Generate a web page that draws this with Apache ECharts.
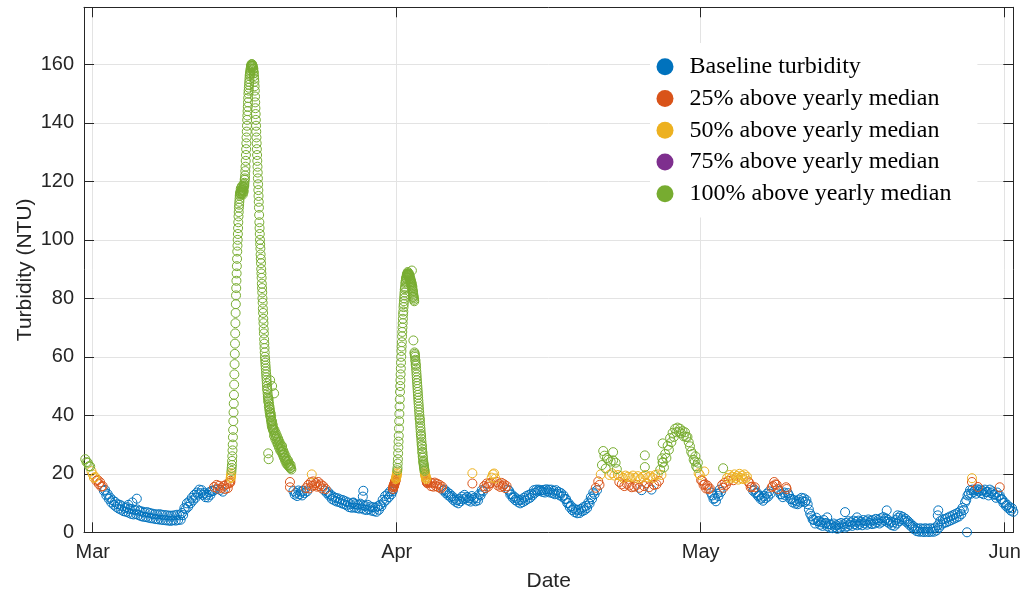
<!DOCTYPE html>
<html>
<head>
<meta charset="utf-8">
<script src="https://cdn.jsdelivr.net/npm/echarts@6.0.0/dist/echarts.min.js"></script>
<style>
  html, body { margin: 0; padding: 0; background: #fff; }
  #chart { width: 1025px; height: 595px; }
</style>
</head>
<body>
<div id="chart"></div>
<script>
// series names / colours (MATLAB default order)
const seriesNames = ['Baseline turbidity', '25% above yearly median', '50% above yearly median',
  '75% above yearly median', '100% above yearly median'];
const seriesColors = ['#0072BD', '#D95319', '#EDB120', '#7E2F8E', '#77AC30'];
// NTU limits of each class (no point falls in the 75% class)
const levelCuts = [14.8, 18, 21, 21];

// x axis: days after Mar 1, month ticks equally spaced
const monthLabels = ['Mar', 'Apr', 'May', 'Jun'];
const monthTicks = [0, 92 / 3, 184 / 3, 92];
const yTicksMax = 179.5;

// 3-hourly readings, Feb 28 18:00 -> Mar 14 18:00
const segAStart = -0.75;
const segA = [25.0, 24.0, 23.8, 22.6, 22.5, 20.9,
  19.8, 18.6, 18.9, 17.6, 17.9, 16.5, 17.1, 15.6,
  15.8, 14.2, 14.5, 12.6, 13.1, 11.4, 11.9, 10.2,
  11.0, 9.4, 10.4, 8.7, 9.6, 8.1, 9.4, 7.7,
  8.9, 7.2, 8.3, 7.0, 8.6, 6.7, 8.0, 6.3,
  7.9, 6.1, 7.6, 6.2, 7.8, 5.9, 7.3, 5.5,
  7.1, 5.3, 6.8, 5.2, 6.9, 5.0, 6.6, 4.8,
  6.4, 4.7, 6.2, 4.5, 6.1, 4.4, 6.2, 4.3,
  6.0, 4.2, 5.9, 4.1, 5.8, 4.0, 5.7, 3.9,
  5.7, 4.1, 5.8, 4.0, 6.0, 4.2, 5.8, 4.3,
  6.6, 5.9, 8.3, 7.9, 9.9, 8.7, 10.6, 9.9,
  11.8, 10.9, 12.8, 11.8, 13.6, 12.9, 14.6, 13.4,
  14.4, 12.8, 13.4, 12.0, 12.8, 11.9, 13.7, 12.8,
  14.2, 14.1, 15.5, 14.6, 16.2, 14.9, 15.9, 14.5,
  15.2, 13.9, 15.9, 14.8, 16.4, 15.1, 16.8];

// half-hourly readings through the steep part of the mid-March storm
const storm1Start = 13.875;
const storm1 = [17.0, 17.6, 18.5, 18.9, 19.5, 20.2, 21.0, 22.0, 23.0, 24.4,
  26, 28, 30, 32.5, 35, 38, 41, 44, 47, 50.5,
  54, 57.5, 61, 64.5, 68, 71.5, 75, 78, 81, 83.5,
  86, 88.5, 91, 93.5, 96, 98, 100, 102, 104, 106,
  108, 109.5, 111, 112, 113, 114, 115, 115.5, 116,
  116.5, 116, 117.5, 116.5, 115.5, 117, 118, 116.5, 117, 118.5, 117.5, 116,
  115.5, 117, 118, 117, 116.5, 118, 119, 118.5, 119.5, 120.5, 121, 122,
  123.5, 125, 127, 129, 131, 133, 135, 137, 139, 141, 142.5, 144, 145.5, 147, 148.5, 150,
  151, 152, 153, 154, 155, 156, 156.5, 157, 157.5, 158, 158.5, 159, 159.5, 159.5, 160, 160,
  159.5, 160, 159.5, 159, 159.5, 158.5, 158, 158.5, 157.5, 157, 156, 155, 154, 152.5, 151, 149,
  147, 145, 143, 141, 139, 137, 135, 133, 131, 129, 127, 125,
  123, 121, 119, 117, 115, 113, 111, 108.5, 106, 104, 102, 100,
  98.5, 97, 95, 93.5, 92, 90, 88.5, 87, 85, 83.5, 82, 80,
  78.5, 76.5, 75, 73, 71.5, 69.5, 68, 66, 64.5, 63, 61.5, 60,
  59, 58, 57, 56, 55, 54, 53, 52, 51, 50, 49, 48.5, 47.5, 46.5, 46, 45,
  44.5, 45.5, 43, 44, 42, 43, 41, 42, 40, 41, 39.5, 40.5, 38.5, 39.5, 37.5, 38,
  36.5, 38, 36, 37, 35.5, 36.5, 35, 35.5];
// hourly readings on the storm's tail
const tail1Start = 13.875 + 105 / 24;
const tail1 = [34.5, 33, 35, 33.5, 32, 34, 32.5, 31, 33, 31.5,
  30, 32, 30.5, 29, 31, 29.5, 28, 30, 28.5, 27.5,
  29, 27.5, 26.5, 28, 26.5, 25.5, 27, 25.5, 24.5, 26,
  24.5, 23.5, 25, 24, 23, 24.5, 23, 22.5, 23.5, 22.5,
  22, 23, 22, 21.5];

// 3-hourly readings, late March
const segBStart = 20.25;
const segB = [14.1, 12.9, 13.5, 12.4, 14.3, 13.0,
  13.9, 12.6, 14.2, 13.4, 15.1, 14.0, 16.2, 15.0,
  17.1, 15.9, 17.4, 16.1, 16.8, 15.6, 17.2, 15.8,
  16.4, 15.0, 15.8, 14.3, 14.8, 13.4, 13.8, 12.5,
  12.9, 11.4, 12.2, 10.9, 11.8, 10.5, 11.6, 10.3,
  11.2, 9.9, 11.0, 9.6, 10.6, 9.2, 10.2, 8.6,
  9.6, 8.4, 10.0, 8.5, 9.6, 8.3, 9.4, 8.1,
  9.8, 8.2, 9.2, 7.8, 9.0, 7.6, 9.4, 7.9,
  8.8, 7.4, 8.6, 7.2, 8.4, 7.0, 8.9, 7.7,
  9.4, 8.9, 11.1, 10.3, 12.4, 11.1, 13.1, 12.0,
  14.0, 13.0];

// half-hourly readings through the early-April storm
const storm2Start = 30.25;
const storm2 = [14.0, 14.6, 14.8, 15.4, 15.5, 15.9, 16.2, 15.8, 16.0, 16.6, 16.8,
  17.0, 17.2, 17.4, 17.6, 17.9, 18.2, 18.5, 18.8, 19.1, 19.5,
  20, 20.5, 21.2, 22, 23.5, 25, 27, 29, 31, 33, 35.5, 38, 40.5, 43, 45.5, 48, 50, 52, 54, 56,
  58, 60, 62, 63.5, 65, 67, 68.5, 70, 71.5, 73, 74.5, 75.5, 77, 78, 79, 80, 81, 82, 83, 83.5,
  84, 85, 85.5, 86, 86.5, 87, 87, 87.5, 88, 88, 88.5, 88, 88.5, 89, 88, 88.5, 87.5, 88, 88.5, 87.5,
  88, 87, 87.5, 86.5, 87, 86, 86.5, 85.5, 86, 85, 85.5, 84.5, 85, 84, 83.5, 84, 83, 82.5, 82,
  81.5, 81, 80.5, 80, 79.5, 79, 61.5,
  61, 60.5, 60, 59, 58.5, 57.5, 57, 56, 55, 54, 53, 52, 51, 50, 49, 48, 47, 46, 45, 44, 43, 42,
  41, 40, 39, 38.5, 37.5, 36.5, 35.5, 34.5, 33.5, 33, 32, 31, 30, 29.5, 28.5, 27.5, 27, 26, 25.5,
  24.5, 24, 23.5,
  23, 22.5, 22, 21.5, 21, 20.5, 20, 19.7, 19.4, 19, 18.8, 18.4, 18.2, 17.8, 17.5, 17.2, 17.0, 16.8];

// 3-hourly readings, Apr 4 -> Jun 1
const segCStart = 34.0;
const segC = [17.1, 15.8, 16.8, 15.6, 17.0, 15.8, 16.6, 15.4,
  16.2, 15.0, 15.6, 14.3, 14.6, 13.4, 13.8, 12.6,
  13.2, 12.0, 12.4, 11.1, 11.6, 10.4, 11.0, 9.9,
  11.4, 10.6, 12.2, 11.3, 12.8, 11.6, 12.1, 10.9,
  11.6, 10.5, 12.4, 11.2, 11.8, 10.6, 11.6, 10.9,
  13.0, 12.6, 14.4, 14.0, 15.8, 15.1, 16.7, 15.6,
  16.6, 16.9, 18.7, 19.8, 20.1, 18.4, 17.2, 16.0,
  16.6, 15.5, 16.9, 15.8, 16.4, 15.1, 15.8, 14.6,
  14.2, 12.9, 13.0, 11.8, 12.2, 11.0, 11.6, 10.4,
  11.0, 9.9, 11.2, 10.3, 11.8, 10.8, 12.4, 11.4,
  12.8, 11.8, 13.2, 12.6, 14.4, 13.5, 14.6, 14.0,
  14.6, 14.2, 14.4, 13.8, 14.5, 13.6, 14.7, 14.0,
  14.6, 13.6, 14.6, 13.4, 14.2, 13.0, 14.4, 13.2,
  13.8, 12.6, 13.4, 12.2, 12.6, 11.4, 11.4, 10.0,
  10.0, 8.6, 9.0, 7.6, 8.2, 6.9, 7.8, 6.5,
  7.6, 6.6, 8.0, 7.2, 8.6, 7.6, 9.0, 8.3,
  10.2, 9.8, 12.0, 11.4, 13.6, 13.0, 15.2, 14.4,
  17.4, 16.2, 19.8, 23.0, 27.8, 26.2, 21.8, 25.4,
  24.8, 19.6, 24.2, 20.2, 24.6, 19.4, 23.8, 21.6,
  19.6, 17.2, 19.2, 16.4, 18.6, 15.8, 19.4, 16.6,
  19.0, 16.0, 18.8, 15.4, 19.4, 15.6, 18.6, 16.2,
  19.2, 15.2, 18.4, 14.4, 19.0, 15.8, 19.6, 16.8,
  18.8, 15.4, 19.2, 14.6, 18.6, 16.2, 19.6, 16.4,
  19.8, 17.6, 21.4, 19.6, 24.0, 22.2, 26.8, 25.4,
  29.6, 28.2, 32.2, 30.8, 34.0, 32.6, 35.4, 34.2,
  35.8, 34.4, 35.4, 33.8, 34.6, 32.8, 34.2, 32.6,
  32.6, 30.8, 29.4, 27.6, 26.8, 24.8, 24.2, 22.6,
  22.0, 20.2, 19.6, 17.8, 17.6, 16.2, 16.4, 15.0,
  16.0, 14.8, 15.0, 13.6, 12.6, 11.4, 11.6, 10.6,
  13.2, 12.4, 14.6, 13.8, 16.2, 15.2, 17.0, 16.2,
  18.6, 17.6, 19.6, 18.4, 19.0, 17.8, 19.8, 18.6,
  19.2, 18.0, 20.0, 18.6, 19.4, 18.2, 19.8, 18.4,
  19.0, 17.4, 16.8, 15.4, 15.6, 14.2, 14.6, 13.4,
  13.6, 12.4, 12.6, 11.4, 11.8, 10.8, 12.4, 11.6,
  13.2, 12.2, 14.0, 13.2, 15.4, 15.8, 17.2, 16.4,
  16.2, 14.8, 14.2, 13.0, 13.0, 12.0, 13.6, 12.6,
  14.8, 13.4, 12.6, 11.4, 11.4, 10.2, 11.0, 9.8,
  10.6, 9.6, 11.2, 10.2, 11.8, 10.6, 11.6, 10.4,
  11.0, 9.6, 7.8, 6.4, 5.6, 4.4, 4.2, 3.0,
  5.0, 3.8, 3.8, 2.6, 3.4, 2.2, 4.2, 3.0,
  3.2, 2.0, 2.8, 1.6, 2.6, 1.4, 3.0, 1.8,
  2.4, 1.2, 2.8, 1.6, 3.2, 2.0, 2.8, 1.6,
  3.2, 2.0, 3.8, 2.6, 3.4, 2.2, 4.0, 2.8,
  3.6, 2.4, 4.0, 2.8, 3.6, 2.4, 4.2, 3.0,
  3.8, 2.6, 4.4, 3.2, 4.0, 2.8, 4.2, 3.0,
  4.6, 3.4, 4.2, 3.0, 4.8, 3.6, 5.2, 4.0,
  4.8, 3.6, 4.2, 3.0, 3.6, 2.4, 3.4, 2.2,
  4.2, 3.0, 5.0, 3.8, 5.6, 4.4, 5.2, 4.0,
  4.6, 3.4, 3.8, 2.6, 3.0, 1.8, 2.2, 1.0,
  1.6, 0.4, 1.2, 0.2, 1.4, 0.2, 1.2, 0.1,
  1.4, 0.2, 1.2, 0.1, 1.4, 0.2, 1.2, 0.2,
  1.6, 0.6, 2.4, 1.6, 3.8, 2.6, 4.4, 3.2,
  4.6, 3.4, 5.0, 3.8, 5.4, 4.2, 5.8, 4.6,
  6.2, 5.0, 6.6, 5.4, 7.2, 6.2, 8.4, 7.6,
  10.2, 11.0, 12.6, 13.2, 14.4, 13.2, 14.6, 13.8,
  14.4, 13.2, 14.7, 14.0, 14.6, 13.4, 14.2, 13.0,
  14.6, 13.8, 13.8, 12.6, 14.6, 13.4, 14.0, 12.8,
  13.0, 11.8, 13.6, 12.4, 12.6, 11.4, 11.2, 10.0,
  10.2, 9.0, 9.4, 8.2, 8.6, 7.4, 8.2, 7.0];

// isolated readings [day, NTU]
const outliers = [[3.6, 9.4], [4.0, 10.2], [4.45, 11.5],
  [17.7, 27.0], [17.75, 25.0], [17.9, 52.0], [18.1, 50.0], [18.3, 47.5], [19.1, 29.5],
  [19.9, 15.4], [19.9, 17.2], [22.1, 19.8],
  [26.3, 10.2], [27.25, 12.2], [27.3, 14.2],
  [32.2, 89.5], [32.3, 80.5], [32.35, 65.6],
  [38.3, 20.2], [38.3, 16.7],
  [52.5, 27.4], [55.7, 26.3], [55.7, 22.3], [57.5, 30.4], [57.45, 25.3], [57.5, 23.8],
  [60.8, 26.0], [61.05, 23.8], [61.7, 20.8], [63.6, 21.9],
  [66.8, 15.4], [69.95, 15.4],
  [74.1, 5.1], [75.9, 6.9], [77.1, 5.1], [80.1, 7.5], [81.2, 5.8], [85.3, 7.5], [85.25, 5.8],
  [88.2, 0.0], [88.7, 17.2], [88.7, 18.5], [89.3, 15.5], [91.5, 15.4]];

function addSeg(out, start, step, vals) {
  vals.forEach((v, i) => out.push([start + i * step, v]));
}
const points = [];
addSeg(points, segAStart, 1 / 8, segA);
addSeg(points, storm1Start, 1 / 48, storm1);
addSeg(points, tail1Start, 1 / 24, tail1);
addSeg(points, segBStart, 1 / 8, segB);
addSeg(points, storm2Start, 1 / 48, storm2);
addSeg(points, segCStart, 1 / 8, segC);
outliers.forEach(p => points.push(p));

const byLevel = seriesNames.map(() => []);
points.forEach(p => {
  const lvl = levelCuts.filter(c => p[1] >= c).length;
  byLevel[lvl].push(p);
});

const axisColor = '#262626';
const gridColor = '#e3e3e3';
const xMin = -0.878, xMax = 92.87;

const chart = echarts.init(document.getElementById('chart'), null, { renderer: 'canvas' });
chart.setOption({
  animation: false,
  grid: { left: 84, right: 11.7, top: 7.3, bottom: 62.7, outerBoundsMode: 'none' },
  legend: {
    orient: 'vertical', left: 650, top: 43,
    padding: [8, 26, 8, 6.5], backgroundColor: '#fff',
    itemWidth: 17, itemHeight: 17, itemGap: 0,
    textStyle: { fontFamily: 'Liberation Serif', fontSize: 24, color: '#000', lineHeight: 31.7, padding: [0, 0, 0, 11] },
    data: seriesNames.map((n, i) => ({ name: n, icon: 'circle', itemStyle: { color: seriesColors[i], borderWidth: 0 } })),
  },
  xAxis: [{
    type: 'value', min: xMin, max: xMax, position: 'bottom',
    name: 'Date', nameLocation: 'middle', nameGap: 38, nameMoveOverlap: false,
    nameTextStyle: { fontFamily: 'Liberation Sans', fontSize: 21, color: axisColor },
    axisLine: { show: true, onZero: false, lineStyle: { color: axisColor, width: 1 } },
    axisTick: { show: true, inside: true, length: 10, customValues: monthTicks, lineStyle: { color: axisColor } },
    axisLabel: {
      customValues: monthTicks, margin: 10, fontFamily: 'Liberation Sans', fontSize: 20, color: axisColor,
      formatter: v => monthLabels[Math.round(v / (92 / 3))],
    },
    splitLine: { show: true, lineStyle: { color: gridColor, width: 1 } },
  }, {
    type: 'value', min: xMin, max: xMax, position: 'top',
    axisLine: { show: true, onZero: false, lineStyle: { color: axisColor, width: 1 } },
    axisTick: { show: true, inside: true, length: 10, customValues: monthTicks, lineStyle: { color: axisColor } },
    axisLabel: { show: false },
    splitLine: { show: false },
  }],
  yAxis: [{
    type: 'value', min: 0, max: yTicksMax, interval: 20, position: 'left',
    name: 'Turbidity (NTU)', nameLocation: 'middle', nameGap: 48, nameMoveOverlap: false,
    nameTextStyle: { fontFamily: 'Liberation Sans', fontSize: 21, color: axisColor },
    axisLine: { show: true, onZero: false, lineStyle: { color: axisColor, width: 1 } },
    axisTick: { show: true, inside: true, length: 10, lineStyle: { color: axisColor } },
    axisLabel: { margin: 10, fontFamily: 'Liberation Sans', fontSize: 20, color: axisColor, showMaxLabel: false },
    splitLine: { show: true, lineStyle: { color: gridColor, width: 1 } },
  }, {
    type: 'value', min: 0, max: yTicksMax, interval: 20, position: 'right',
    axisLine: { show: true, onZero: false, lineStyle: { color: axisColor, width: 1 } },
    axisTick: { show: true, inside: true, length: 10, lineStyle: { color: axisColor } },
    axisLabel: { show: false },
    splitLine: { show: false },
  }],
  series: seriesNames.map((n, i) => ({
    name: n, type: 'scatter', xAxisIndex: 0, yAxisIndex: 0,
    symbol: 'circle', symbolSize: 9,
    itemStyle: { color: 'transparent', borderColor: seriesColors[i], borderWidth: 1, opacity: 1 },
    emphasis: { disabled: true },
    data: byLevel[i],
  })),
});
</script>
</body>
</html>
